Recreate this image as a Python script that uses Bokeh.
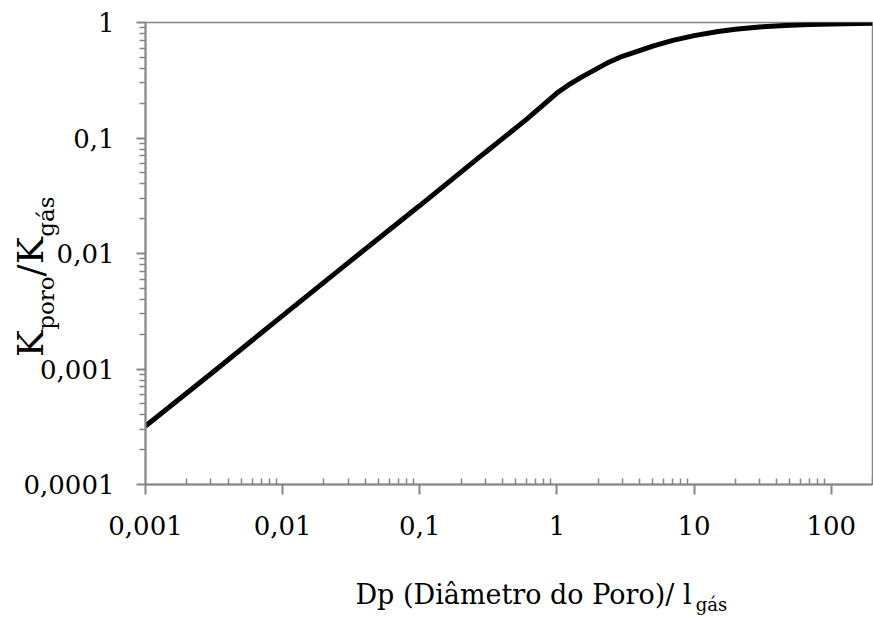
from bokeh.plotting import figure
from bokeh.models import (FixedTicker, CustomJSTickFormatter, Range1d, LinearAxis,
                          LinearScale)
from bokeh.embed import file_html
from bokeh.resources import INLINE

# ---- data ----
dp_ratio = [0.001, 0.003, 0.01, 0.03, 0.1, 0.3, 0.6, 1.0, 1.2, 1.5, 2.3, 3.0,
            4.0, 5.0, 7.0, 10, 15, 20, 30, 50, 70, 100, 200]
k_ratio = [0.00032, 0.00091, 0.0029, 0.0083, 0.026, 0.075, 0.145, 0.245, 0.285,
           0.335, 0.443, 0.51, 0.57, 0.625, 0.70, 0.77, 0.835, 0.875, 0.915,
           0.945, 0.96, 0.97, 0.985]

x_major = [0.001, 0.01, 0.1, 1, 10, 100]
y_major = [0.0001, 0.001, 0.01, 0.1, 1]
x_minor = [m * d for d in [0.001, 0.01, 0.1, 1, 10, 100] for m in range(2, 10)]
y_minor = [m * d for d in [0.0001, 0.001, 0.01, 0.1] for m in range(2, 10)]

x_title = "Dp (Diâmetro do Poro)/ l"
x_title_sub = "gás"
y_title_main = ["K", "/", "K"]
y_title_sub = ["poro", "gás"]

FONT = "DejaVu Serif"
GREY = "#868686"
FW, FH = 727, 462

p = figure(x_axis_type="log", y_axis_type="log",
           x_range=Range1d(0.001, 200), y_range=Range1d(0.0001, 1),
           frame_width=FW, frame_height=FH,
           min_border_left=145, min_border_top=22, min_border_right=1,
           min_border_bottom=137,
           output_backend="svg", toolbar_location=None)

p.line(dp_ratio, k_ratio, line_color="black", line_width=5)

p.grid.visible = False
p.outline_line_color = GREY
p.outline_line_width = 1.5

fmt = CustomJSTickFormatter(code="return tick.toString().replace('.', ',');")


def style_axis(ax, tick_out, minor_in, minor_out, standoff):
    ax.formatter = fmt
    ax.axis_line_color = GREY
    ax.axis_line_width = 2
    ax.major_tick_line_color = GREY
    ax.major_tick_line_width = 2
    ax.minor_tick_line_color = GREY
    ax.minor_tick_line_width = 1.5
    ax.major_tick_in = 0
    ax.major_tick_out = tick_out
    ax.minor_tick_in = minor_in
    ax.minor_tick_out = minor_out
    ax.major_label_text_font = FONT
    ax.major_label_text_font_size = "26px"
    ax.major_label_text_color = "black"
    ax.major_label_standoff = standoff


xa = p.xaxis[0]
xa.ticker = FixedTicker(ticks=x_major, minor_ticks=x_minor)
style_axis(xa, 10, 6, 0, 21)
ya = p.yaxis[0]
ya.ticker = FixedTicker(ticks=y_major, minor_ticks=y_minor)
style_axis(ya, 9, 0, 6, 22)

# pixel-unit helper ranges, used only to place the axis-title pieces
p.extra_x_ranges = {"px": Range1d(0, FW)}
p.extra_x_scales = {"px": LinearScale()}
p.extra_y_ranges = {"py": Range1d(0, FH)}
p.extra_y_scales = {"py": LinearScale()}


def text_axis(kind, side, positions, texts, size, standoff, orient="horizontal"):
    if kind == "x":
        ax = LinearAxis(x_range_name="px")
    else:
        ax = LinearAxis(y_range_name="py")
    ax.ticker = FixedTicker(ticks=positions, minor_ticks=[])
    ax.formatter = CustomJSTickFormatter(
        args=dict(pos=positions, txt=texts),
        code="const i = pos.indexOf(tick); return i >= 0 ? txt[i] : '';")
    ax.axis_line_color = None
    ax.major_tick_line_color = None
    ax.minor_tick_line_color = None
    ax.major_tick_in = 0
    ax.major_tick_out = 0
    ax.minor_tick_in = 0
    ax.minor_tick_out = 0
    ax.major_label_text_font = FONT
    ax.major_label_text_font_size = f"{size}px"
    ax.major_label_text_color = "black"
    ax.major_label_standoff = standoff
    ax.major_label_orientation = orient
    p.add_layout(ax, side)
    return ax


# x-axis title: main text then subscript (stacked below the x axis)
text_axis("x", "below", [378], [x_title], 27, 41)
text_axis("x", "below", [566], [x_title_sub], 18, -19)

# y-axis title: main-size pieces, then subscript pieces (stacked left)
text_axis("y", "left", [141, 214, 234], y_title_main, 36, -30, "vertical")
text_axis("y", "left", [181.5, 268], y_title_sub, 23, -52, "vertical")

open("out.html", "w").write(file_html(p, INLINE))
